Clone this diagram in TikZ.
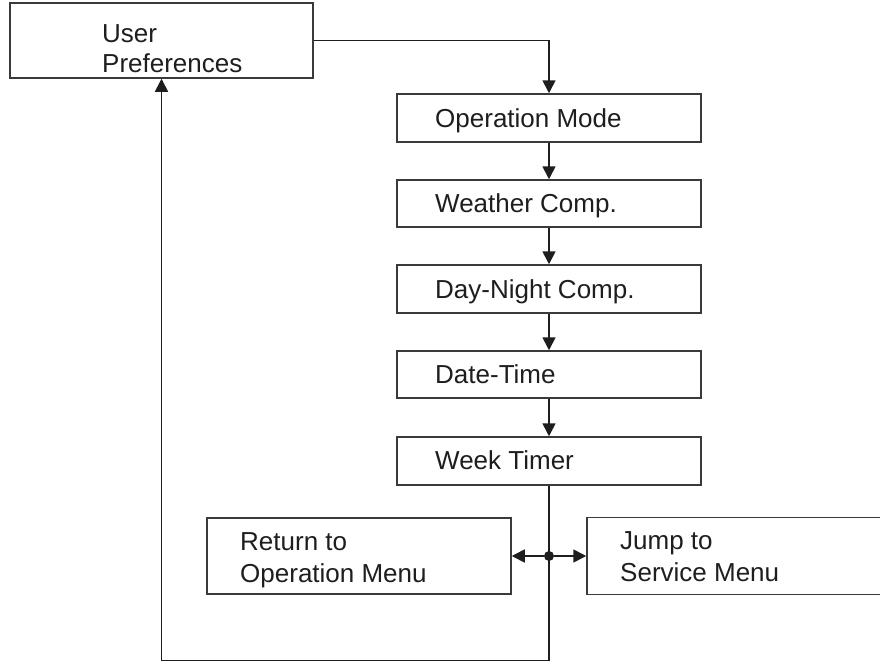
\documentclass[tikz,border=0pt]{standalone}
\usepackage{fontspec}
\setmainfont{Liberation Sans}
\usetikzlibrary{arrows.meta}
\definecolor{ink}{HTML}{1E1E1E}
\definecolor{edge}{HTML}{3A3A3A}
\tikzset{
  box/.style={draw=edge, line width=1.5pt, rectangle, inner sep=0pt, fill=white},
  lbl/.style={anchor=base west, inner sep=0pt, text=ink, font=\fontsize{26}{30}\selectfont},
  conn/.style={draw=ink, line width=1.7pt},
  arr/.style={conn, -{Triangle[length=13pt 0, width=13pt 0]}},
  dot/.style={circle, fill=ink, inner sep=0pt, minimum size=10pt}
}
\begin{document}
\begin{tikzpicture}[x=1pt,y=-1pt]
\clip (0,0) rectangle (880,661);
\fill[white] (0,0) rectangle (880,661);
% boxes
\node[box, minimum width=303pt, minimum height=75pt] (up) at (161.5,40.5) {};
\node[box, minimum width=304pt, minimum height=48pt] (op) at (549,118) {};
\node[box, minimum width=304pt, minimum height=47pt] (wc) at (549,203.5) {};
\node[box, minimum width=304pt, minimum height=48pt] (dn) at (549,289) {};
\node[box, minimum width=304pt, minimum height=47pt] (dt) at (549,374.5) {};
\node[box, minimum width=304pt, minimum height=48pt] (wt) at (549,461) {};
\node[box, minimum width=304pt, minimum height=76pt] (ret) at (359,556) {};
\node[box, minimum width=303pt, minimum height=77pt] (jmp) at (738.5,556) {};
% texts
\node[lbl] (t1) at (102,42) {User};
\node[lbl] (t2) at (102,72) {Preferences};
\node[lbl] (t3) at (435,127) {Operation Mode};
\node[lbl] (t4) at (435,212) {Weather Comp.};
\node[lbl] (t5) at (435,298) {Day-Night Comp.};
\node[lbl] (t6) at (435,383) {Date-Time};
\node[lbl] (t7) at (435,469) {Week Timer};
\node[lbl] (t8) at (240,550) {Return to};
\node[lbl] (t9) at (240,582) {Operation Menu};
\node[lbl] (t10) at (620,549) {Jump to};
\node[lbl] (t11) at (620,581) {Service Menu};
% connectors
\draw[arr] (up.east) -| (op.north);
\draw[arr] (op.south) -- (wc.north);
\draw[arr] (wc.south) -- (dn.north);
\draw[arr] (dn.south) -- (dt.north);
\draw[arr] (dt.south) -- (wt.north);
\coordinate (br) at (549,660.5);
\draw[arr] (wt.south) -- (br) -| (up.south);
\node[dot] (j) at (549,556) {};
\draw[arr] (j) -- (ret.east);
\draw[arr] (j) -- (jmp.west);
\end{tikzpicture}
\end{document}
